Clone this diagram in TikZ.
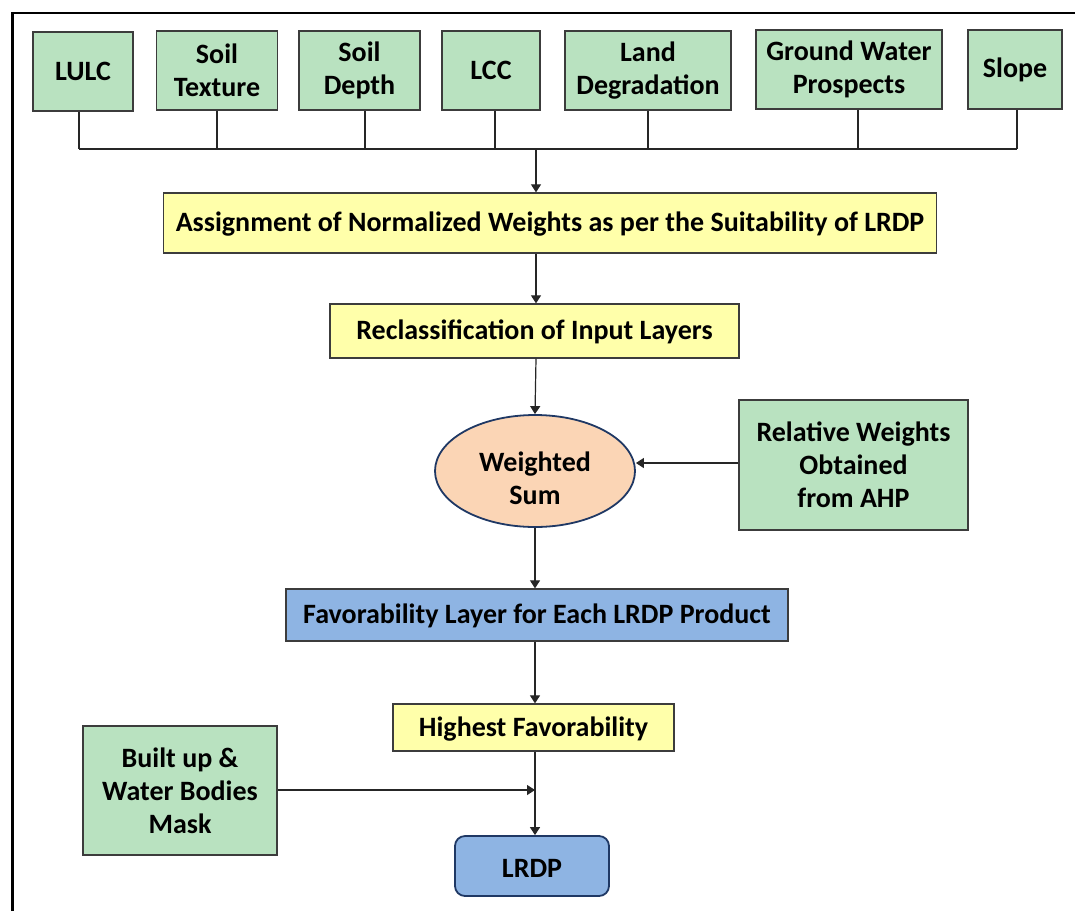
\documentclass[tikz,border=0pt]{standalone}
\usepackage{fontspec}
\setmainfont{Carlito}
\usetikzlibrary{arrows.meta,shapes.geometric}
\definecolor{gbox}{RGB}{185,226,192}
\definecolor{ybox}{RGB}{255,255,170}
\definecolor{bbox}{RGB}{142,180,227}
\definecolor{pbox}{RGB}{251,213,181}
\definecolor{navy}{RGB}{31,56,100}
\definecolor{edge}{RGB}{60,60,60}
\tikzset{
  base/.style={draw=edge,line width=1.3pt,inner sep=0pt,align=center,
    font=\fontsize{28}{33}\selectfont\bfseries},
  gnode/.style={base,fill=gbox},
  ynode/.style={base,fill=ybox},
  bnode/.style={base,fill=bbox},
  conn/.style={draw=black!85,line width=1.2pt},
  arr/.style={conn,-{Triangle[width=10pt,length=8pt]}},
}
\begin{document}
\begin{tikzpicture}[x=1pt,y=-1pt]
\useasboundingbox (0,0) rectangle (1075,911);
\draw[line width=3pt] (12,911) -- (12,13);
\draw[line width=1.5pt] (11,13) -- (1075,13);
% top inputs
\node[gnode,minimum width=100,minimum height=79] (lulc) at (83,71.5) {LULC};
\node[gnode,minimum width=121,minimum height=79] (st) at (217,70.5) {Soil\\Texture};
\node[gnode,minimum width=121,minimum height=79] (sd) at (359.5,70.5) {Soil\\Depth};
\node[gnode,minimum width=98,minimum height=79] (lcc) at (491,70.5) {LCC};
\node[gnode,minimum width=166,minimum height=79] (ld) at (648,70.5) {Land\\Degradation};
\node[gnode,minimum width=186,minimum height=79] (gw) at (849,69.5) {Ground Water\\Prospects};
\node[gnode,minimum width=94,minimum height=79] (sl) at (1015,69.5) {Slope};
% bus
\coordinate (bl) at (79,149);
\coordinate (br) at (1017,149);
\coordinate (bm) at (536,149);
\draw[conn] (bl) -- (br);
\draw[conn] (lulc.south -| bl) -- (bl);
\draw[conn] (st.south) -- (st.south |- bl);
\draw[conn] (sd.south -| 365,0) -- (365,149);
\draw[conn] (lcc.south -| 495,0) -- (495,149);
\draw[conn] (ld.south) -- (ld.south |- bl);
\draw[conn] (gw.south -| 858,0) -- (858,149);
\draw[conn] (sl.south -| br) -- (br);
% main column
\node[ynode,minimum width=773,minimum height=60] (asg) at (550,223) {\rule{0pt}{22pt}Assignment of Normalized Weights as per the Suitability of LRDP};
\node[ynode,minimum width=409,minimum height=54] (rec) at (534.5,331) {\rule{0pt}{22pt}Reclassification of Input Layers};
\node[base,ellipse,draw=navy,line width=1.8pt,fill=pbox,minimum width=200,minimum height=112] (ws) at (535,471) {\rule{0pt}{34pt}Weighted\\Sum};
\node[gnode,minimum width=229,minimum height=130] (rw) at (853.5,465) {Relative Weights\\Obtained\\from AHP};
\node[bnode,minimum width=502,minimum height=52] (fav) at (537,615) {\rule{0pt}{22pt}Favorability Layer for Each LRDP Product};
\node[ynode,minimum width=281,minimum height=47] (hf) at (533.5,727.5) {\rule{0pt}{22pt}Highest Favorability};
\node[gnode,minimum width=194,minimum height=129] (bu) at (180,790.5) {Built up \&\\Water Bodies\\Mask};
\node[base,draw=navy,line width=1.8pt,fill=bbox,rounded corners=10pt,minimum width=154,minimum height=60] (lrdp) at (532,866) {\rule{0pt}{22pt}LRDP};
% arrows
\draw[arr] (bm) -- (bm |- asg.north);
\draw[arr] (asg.south -| bm) -- (bm |- rec.north);
\draw[arr] (rec.south -| bm) -- (ws.north);
\draw[arr] (rw.west |- 0,463) -- (ws.east |- 0,463);
\draw[arr] (ws.south) -- (ws.south |- fav.north);
\draw[arr] (fav.south -| ws.south) -- (ws.south |- hf.north);
\draw[arr] (hf.south -| ws.south) -- (ws.south |- lrdp.north);
\draw[arr] (bu.east |- 0,790) -- (ws.south |- 0,790);
\end{tikzpicture}
\end{document}
